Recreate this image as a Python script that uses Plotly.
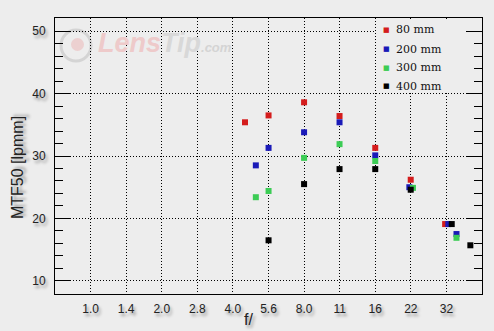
import numpy as np
import plotly.graph_objects as go

# ---- data ----
stop_labels = ["1.0", "1.4", "2.0", "2.8", "4.0", "5.6", "8.0", "11", "16", "22", "32"]

f_80 = [4.5, 5.66, 8.0, 11.3, 16.0, 22.6, 31.6]
mtf_80 = [35.4, 36.5, 38.6, 36.4, 31.3, 26.2, 19.1]

f_200 = [5.0, 5.66, 8.0, 11.3, 16.0, 22.3, 32.6, 35.3]
mtf_200 = [28.5, 31.3, 33.8, 35.4, 30.1, 25.0, 19.1, 17.5]

f_300 = [5.0, 5.66, 8.0, 11.3, 16.0, 23.1, 35.3]
mtf_300 = [23.4, 24.4, 29.7, 31.9, 29.2, 24.9, 16.9]

f_400 = [5.66, 8.0, 11.3, 16.0, 22.6, 33.7, 40.4]
mtf_400 = [16.5, 25.5, 27.9, 27.9, 24.6, 19.1, 15.7]

series_names = ["80 mm", "200 mm", "300 mm", "400 mm"]
series_colors = ["#d41c1c", "#1a1ab8", "#3ccc55", "#000000"]

BG = "#ededed"
SHADOW = "2px 3px 3px rgba(0,0,0,0.38)"


def stop_pos(f):
    # position in f-stops (1.0 -> 0, 1.4 -> 1, 2.0 -> 2, ...)
    return 2 * np.log2(np.asarray(f, dtype=float))


fig = go.Figure()
for name, col, fx, my in zip(series_names, series_colors,
                             [f_80, f_200, f_300, f_400],
                             [mtf_80, mtf_200, mtf_300, mtf_400]):
    fig.add_trace(go.Scatter(
        x=stop_pos(fx), y=my, mode="markers", name=name,
        marker=dict(symbol="square", size=6, color=col, line=dict(width=0)),
        showlegend=False,
    ))

fig.update_layout(
    width=494, height=331,
    margin=dict(l=55, r=12, t=18, b=37),
    paper_bgcolor=BG, plot_bgcolor=BG,
    font=dict(family="Liberation Sans, Arial, sans-serif", size=12, color="#222"),
)

fig.update_xaxes(
    range=[-1.0, 11.0],
    tickmode="array", tickvals=list(range(len(stop_labels))), ticktext=stop_labels,
    ticks="", showline=True, linecolor="black", linewidth=1, mirror=True,
    showgrid=True, gridcolor="black", gridwidth=1, griddash="1px,2px",
    zeroline=False, ticklabelstandoff=4,
    tickfont=dict(size=12, color="#222", shadow=SHADOW),
)
fig.update_yaxes(
    range=[7.9, 52.1],
    tickmode="linear", tick0=10, dtick=10,
    ticks="inside", ticklen=15, tickcolor="black", tickwidth=1,
    minor=dict(dtick=2, ticks="inside", ticklen=8, tickcolor="black", showgrid=False),
    showline=True, linecolor="black", linewidth=1, mirror="ticks",
    showgrid=True, gridcolor="black", gridwidth=1, griddash="1px,2px",
    zeroline=False, ticklabelstandoff=6,
    tickfont=dict(size=12, color="#222", shadow=SHADOW),
)

# plot area: x 55..482, y 18..294  (paper coords helpers)
def px(xp):
    return (xp - 55) / 427.0


def py(yp):
    return (294 - yp) / 276.0


# legend cover box
fig.add_shape(type="rect", xref="paper", yref="paper",
              x0=px(376), x1=px(466), y0=py(93), y1=py(19.5),
              fillcolor=BG, line=dict(width=0), layer="above")

legend_y = [30, 49, 67.5, 86]
for name, col, ly in zip(series_names, series_colors, legend_y):
    fig.add_annotation(xref="paper", yref="paper", x=px(386.7), y=py(ly),
                       text="■", showarrow=False, xanchor="center", yanchor="middle",
                       font=dict(family="DejaVu Sans", size=7, color=col))
    fig.add_annotation(xref="paper", yref="paper", x=px(394), y=py(ly),
                       text=name, showarrow=False, xanchor="left", yanchor="middle",
                       font=dict(family="DejaVu Serif", size=11, color="#111"))

# watermark
fig.add_shape(type="circle", xref="paper", yref="paper",
              x0=px(61), x1=px(91), y0=py(61), y1=py(30),
              line=dict(color="#d4d4d4", width=3), fillcolor="rgba(0,0,0,0)", layer="below")
fig.add_shape(type="circle", xref="paper", yref="paper",
              x0=px(71), x1=px(84), y0=py(51), y1=py(38),
              line=dict(width=0), fillcolor="#ecd0d0", layer="below")
fig.add_annotation(xref="paper", yref="paper", x=px(96), y=py(43),
                   xanchor="left", yanchor="middle", showarrow=False,
                   text="<b><i><span style='color:#eecaca'>Lens</span>"
                        "<span style='color:#d8d8d8'>Tip</span></i></b>"
                        "<span style='color:#d4d4d4;font-size:13px'><b><i>.com</i></b></span>",
                   font=dict(family="Liberation Sans, Arial", size=27, color="#d8d8d8"))

# axis titles
fig.add_annotation(xref="paper", yref="paper", x=px(248), y=py(319),
                   text="f/", showarrow=False, xanchor="center", yanchor="middle",
                   font=dict(size=16, color="#222", shadow=SHADOW))
fig.add_annotation(xref="paper", yref="paper", x=px(17), y=py(168),
                   text="MTF50 [lpmm]", textangle=-90, showarrow=False,
                   xanchor="center", yanchor="middle",
                   font=dict(size=16, color="#222", shadow=SHADOW))

fig.write_html("out.html")
